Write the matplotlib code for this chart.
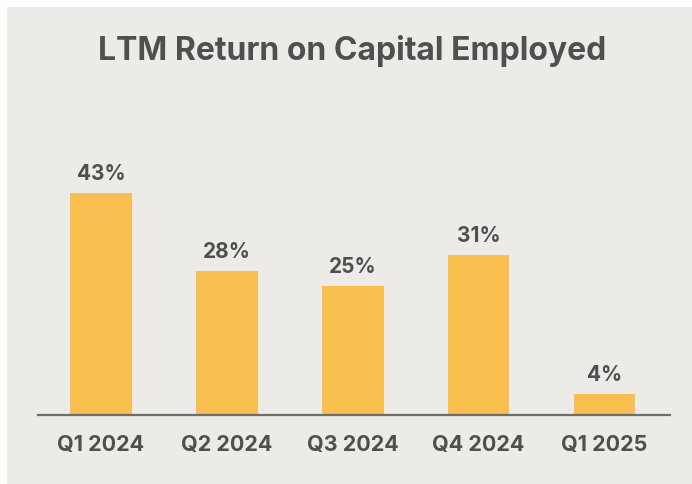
import matplotlib
matplotlib.use("Agg")
from matplotlib import pyplot as plt
from matplotlib.patches import Rectangle

quarters = ["Q1 2024", "Q2 2024", "Q3 2024", "Q4 2024", "Q1 2025"]
roce = [43, 28, 25, 31, 4]
labels = ["43%", "28%", "25%", "31%", "4%"]

bg = "#ECEBE8"
bar_color = "#F9BF4F"
text_color = "#4F4F4F"

plt.rcParams["font.family"] = ["Inter", "DejaVu Sans"]

fig = plt.figure(figsize=(6.92, 4.85), dpi=100, facecolor="white")
# grey panel, white strip on the top and left edges
fig.patches.append(Rectangle((7 / 692, 0), 1, 1 - 8 / 485, transform=fig.transFigure,
                             facecolor=bg, edgecolor="none", zorder=-1))

ax = fig.add_axes([38 / 692, 69 / 485, 632 / 692, 258 / 485])
ax.set_facecolor("none")

x = range(len(quarters))
bars = ax.bar(x, roce, width=0.49, color=bar_color)

for b, lab in zip(bars, labels):
    ax.annotate(lab, (b.get_x() + b.get_width() / 2, b.get_height()),
                xytext=(0, 10), textcoords="offset points",
                ha="center", va="baseline", fontsize=15, fontweight="bold",
                color=text_color)

ax.set_xlim(-0.5, 4.52)
ax.set_ylim(0, 50)
ax.set_xticks(list(x))
ax.set_xticklabels(quarters, fontsize=15.5, fontweight="bold", color=text_color)
ax.tick_params(axis="x", length=0, pad=14)
ax.set_yticks([])
for s in ["top", "right", "left"]:
    ax.spines[s].set_visible(False)
ax.spines["bottom"].set_color("#6E6E6E")
ax.spines["bottom"].set_linewidth(1.6)

fig.text(352 / 692, 1 - 60 / 485, "LTM Return on Capital Employed",
         ha="center", va="baseline", fontsize=23, fontweight="bold", color=text_color)

fig.savefig("out.png", dpi=100, facecolor=fig.get_facecolor())
